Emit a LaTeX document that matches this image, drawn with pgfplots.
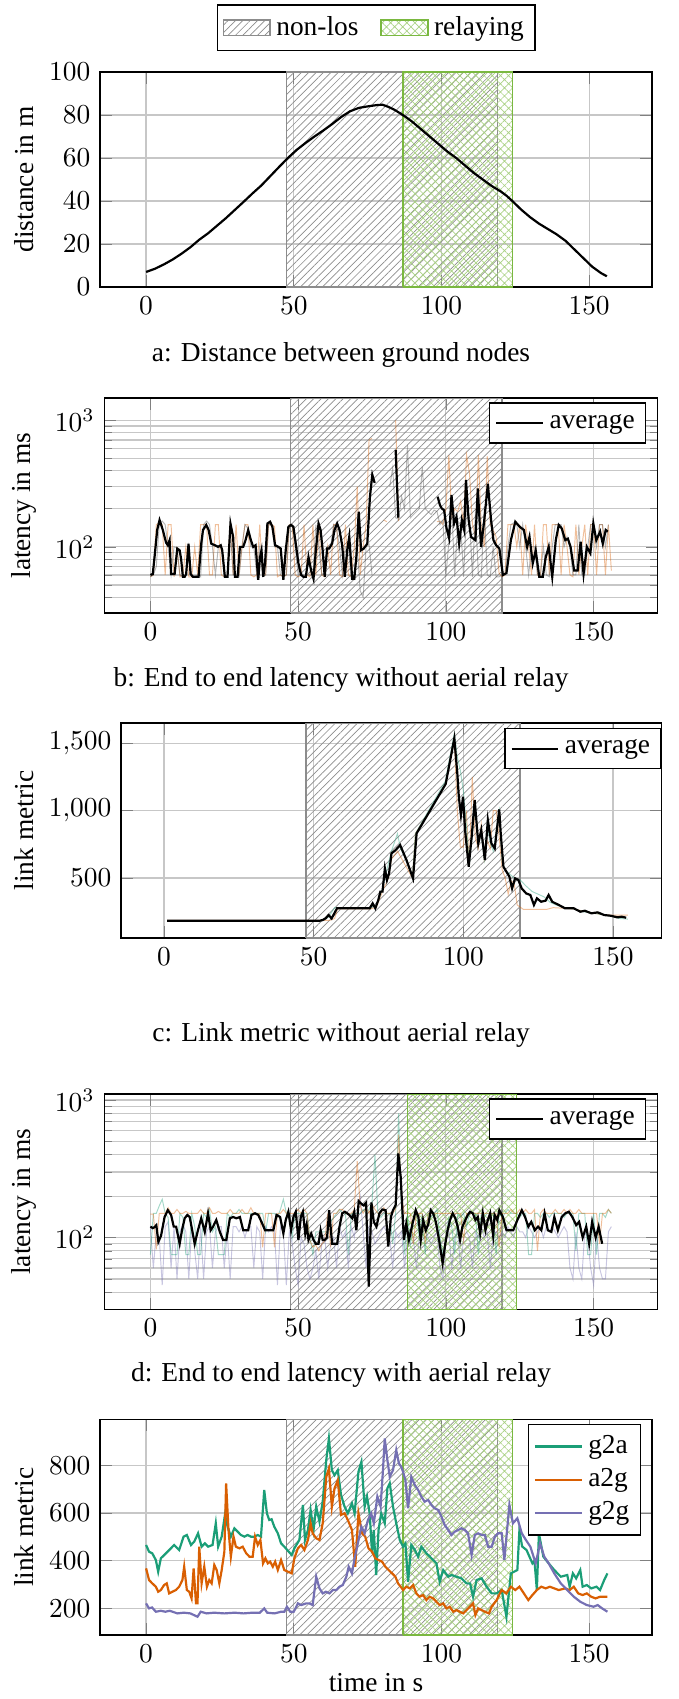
\documentclass[border=0pt]{standalone}
\usepackage{fontspec}
\setmainfont{Liberation Serif}
\usepackage{pgfplots}
\pgfplotsset{compat=1.18}
\usetikzlibrary{patterns.meta}
\definecolor{relaygreen}{RGB}{122,184,64}
\definecolor{dgreen}{RGB}{27,158,119}
\definecolor{dorange}{RGB}{217,95,2}
\definecolor{dpurple}{RGB}{117,112,179}
\pgfplotsset{
 base/.style={scale only axis, anchor=north west, xmajorgrids, ymajorgrids,
   grid style={black!22, line width=0.45pt},
   axis line style={line width=0.5pt},
   legend style={draw=black, line width=0.5pt, font=\normalsize, inner sep=2pt},
   legend cell align=left, unbounded coords=jump},
 nonlos/.style={draw=black!45, line width=0.5pt, pattern={Lines[angle=45,distance=1.9pt,line width=0.25pt]}, pattern color=black!45, area legend},
 relay/.style={draw=relaygreen, line width=0.5pt, pattern={Hatch[angle=45,distance=2.1pt,line width=0.25pt]}, pattern color=relaygreen!65, area legend},
 faint/.style={line width=0.35pt, opacity=0.4, forget plot},
}
\begin{document}
\begin{tikzpicture}
\useasboundingbox (0,0) rectangle (247.47pt,-620.1pt);
% ---------------- a
\begin{axis}[base, at={(36.5pt,-26.28pt)}, width=201.48pt, height=78.48pt,
  xmin=-15.6, xmax=171.3, ymin=0, ymax=100, ylabel={distance in m},
  ylabel style={at={(axis description cs:-0.138,0.5)}, anchor=center},
  legend columns=2, legend style={at={(0.5,1)}, anchor=south, yshift=7.7pt, /tikz/every even column/.append style={column sep=6pt}}]
\addplot[nonlos] coordinates {(47.5,0)(47.5,100)(119,100)(119,0)(47.5,0)};
\addlegendentry{non-los}
\addplot[relay] coordinates {(87,0)(87,100)(124,100)(124,0)(87,0)};
\addlegendentry{relaying}
\addplot[black, line width=0.8pt, forget plot] coordinates {(0,7)(3,8.5)(6,10.5)(9,12.8)(12,15.5)(15,18.5)(18,22)(21,25)(24,28.5)(27,32)(30,35.8)(33,39.6)(36,43.5)(39,47.2)(42,51.5)(45,55.8)(48,60)(51,63.8)(54,67)(57,70)(60,72.8)(63,75.8)(66,79)(69,81.7)(72,83.3)(75,84)(78,84.6)(80,84.8)(82,83.8)(84,82.5)(86,80.8)(88,79)(90,77)(93,73.5)(96,70)(99,66.5)(102,63)(105,60)(108,56.5)(111,53)(114,50)(117,47)(120,44.5)(122,42.5)(124,40)(127,36)(130,32.5)(133,29.5)(136,27)(139,24.5)(142,21.5)(145,17.5)(148,13.5)(151,9.5)(154,6.5)(156,5)};
\end{axis}
\node at (124.47pt,-129.58pt) {a: Distance between ground nodes};
% ---------------- b
\begin{axis}[base, at={(38.07pt,-145.27pt)}, width=201.88pt, height=78.48pt,
  xmin=-15.6, xmax=171.6, ymode=log, ymin=30, ymax=1500, yminorgrids, minor grid style={black!22, line width=0.45pt},
  ylabel={latency in ms},
  ylabel style={at={(axis description cs:-0.145,0.5)}, anchor=center}]
\addplot[nonlos, forget plot] coordinates {(47.5,30)(47.5,1500)(119,1500)(119,30)(47.5,30)};
\addplot[faint, dorange] coordinates {(0,58)(1,60)(2,150)(3,155)(4,150)(5,60)(6,150)(7,150)(8,58)(9,100)(10,58)(11,60)(12,100)(13,58)(14,58)(15,100)(16,60)(17,150)(18,150)(19,150)(20,60)(21,60)(22,150)(23,150)(24,60)(25,58)(26,58)(27,150)(28,60)(29,150)(30,60)(31,100)(32,150)(33,150)(34,60)(35,58)(36,60)(37,150)(38,60)(39,60)(40,150)(41,150)(42,145)(43,58)(44,60)(45,58)(46,60)(47,150)(48,148)(49,60)(50,58)(51,60)(52,150)(53,60)(54,58)(55,150)(56,60)(57,150)(58,60)(59,58)(60,100)(61,60)(62,150)(63,150)(64,60)(65,58)(66,150)(67,60)(68,58)(69,100)(70,300)(71,60)(72,100)(73,150)(74,700)(75,720)(76,nan)(79,163)(80,158)(81,nan)(83,1000)(84,160)(85,nan)(97,158)(98,160)(99,150)(100,200)(101,530)(102,170)(103,200)(104,190)(105,230)(106,150)(107,530)(108,380)(109,150)(110,120)(111,530)(112,140)(113,100)(114,520)(115,150)(116,136)(117,120)(118,62)(119,58)(120,60)(121,150)(122,150)(123,150)(124,100)(125,150)(126,60)(127,150)(128,100)(129,60)(130,150)(131,60)(132,58)(133,150)(134,150)(135,60)(136,150)(137,150)(138,150)(139,60)(140,150)(141,100)(142,60)(143,58)(144,150)(145,60)(146,100)(147,150)(148,60)(149,150)(150,150)(151,60)(152,150)(153,150)(154,60)(155,150)(156,65)};
\addplot[faint, black!70] coordinates {(0,58)(1,60)(2,70)(3,150)(4,160)(5,150)(6,100)(7,60)(8,100)(9,98)(10,60)(11,58)(12,60)(13,100)(14,58)(15,58)(16,60)(17,58)(18,150)(19,160)(20,150)(21,100)(22,60)(23,100)(24,100)(25,58)(26,60)(27,150)(28,60)(29,60)(30,58)(31,100)(32,150)(33,140)(34,100)(35,100)(36,60)(37,100)(38,58)(39,60)(40,150)(41,150)(42,100)(43,100)(44,60)(45,58)(46,60)(47,150)(48,150)(49,100)(50,60)(51,62)(52,60)(53,60)(54,60)(55,58)(56,150)(57,100)(58,60)(59,60)(60,100)(61,100)(62,150)(63,140)(64,100)(65,60)(66,100)(67,100)(68,55)(69,55)(70,100)(71,45)(72,40)(73,100)(74,105)(75,60)(76,nan)(81,300)(82,420)(83,170)(84,165)(85,250)(86,200)(87,640)(88,170)(89,180)(90,190)(91,200)(92,430)(93,200)(94,190)(95,180)(96,195)(97,190)(98,150)(99,160)(100,58)(101,110)(102,200)(103,58)(104,160)(105,150)(106,58)(107,200)(108,170)(109,58)(110,190)(111,60)(112,58)(113,210)(114,60)(115,58)(116,100)(117,58)(118,58)(119,60)(120,60)(121,100)(122,150)(123,155)(124,150)(125,100)(126,150)(127,100)(128,60)(129,100)(130,100)(131,60)(132,60)(133,100)(134,60)(135,58)(136,100)(137,150)(138,150)(139,150)(140,100)(141,120)(142,100)(143,60)(144,60)(145,150)(146,60)(147,60)(148,100)(149,150)(150,150)(151,100)(152,150)(153,150)(154,100)(155,150)};
\addplot[black, line width=0.8pt] coordinates {(0,60)(0.8,61)(1.4,83)(2.3,136)(3.1,163)(4.2,136)(5.3,108)(5.9,103)(6.5,113)(7,61)(7.6,61)(8.2,61)(9.1,97)(9.9,94)(10.4,80)(11,58)(11.6,58)(12.1,61)(12.9,106)(13.6,61)(14.4,58)(15.5,58)(16.3,58)(17.2,106)(17.8,136)(18.9,149)(19.7,136)(20.6,106)(21.8,103)(22.9,100)(23.8,103)(24.3,94)(25.2,58)(26.1,58)(27.1,153)(28,120)(28.6,58)(29.5,58)(30.3,100)(31.4,100)(32.2,113)(33.1,136)(34,113)(34.8,100)(35.6,103)(36.5,55)(37.1,83)(37.6,94)(38.2,58)(38.8,74)(39.6,153)(40.5,158)(41.3,144)(42.2,103)(43.3,100)(44.1,97)(45,55)(45.8,94)(46.7,144)(47.6,149)(48.4,144)(49.2,106)(50.1,74)(51,60)(51.8,58)(52.6,58)(53.5,83)(54.4,65)(55.2,56)(56,94)(56.9,153)(57.6,136)(58.3,94)(59,58)(59.8,97)(60.5,97)(61.5,106)(62.3,136)(63.2,153)(64,136)(64.9,103)(65.8,58)(66.6,94)(67.3,120)(68.3,56)(69,56)(69.7,83)(70.5,190)(71.3,94)(72.2,97)(73.4,106)(74.3,249)(75.1,371)(75.9,320)(76.5,nan)(83,585)(83.9,170)(84.5,nan)(97.2,249)(98,214)(98.6,201)(99.4,195)(100.2,141)(101.1,117)(101.9,257)(102.8,153)(103.6,173)(104.5,106)(105.4,163)(106.2,136)(106.8,338)(107.7,163)(108.5,120)(110,113)(110.8,290)(111.9,100)(113,163)(114.2,315)(115.3,163)(116.1,113)(117,103)(118.1,97)(119.3,60)(120.5,62)(122,113)(123.5,158)(125,144)(126.4,136)(127.5,100)(128.3,120)(129.4,74)(130.4,94)(131.6,58)(132.8,58)(133.8,83)(134.8,100)(136,58)(137.2,113)(138.2,149)(139.2,140)(140.4,113)(141.3,116)(142.2,100)(143.4,65)(144.6,65)(145.6,110)(146.6,61)(147.7,100)(148.9,89)(149.9,153)(150.9,113)(152.2,132)(153.1,106)(154.1,136)(154.8,132)};
\addlegendentry{average}
\end{axis}
\node at (124.47pt,-248.2pt) {b: End to end latency without aerial relay};
% ---------------- c
\begin{axis}[base, at={(44.13pt,-263.9pt)}, width=197.39pt, height=78.48pt,
  xmin=-14.4, xmax=166.3, ymin=54, ymax=1651, ylabel={link metric},
  ylabel style={at={(axis description cs:-0.179,0.5)}, anchor=center},
  legend style={at={(1,0.977)}, anchor=north east}]
\addplot[nonlos, forget plot] coordinates {(47.5,54)(47.5,1651)(119,1651)(119,54)(47.5,54)};
\addplot[faint, dorange] coordinates {(1,185)(52,185)(55,185)(56,190)(57,200)(58,270)(69,270)(71,285)(73,400)(74,450)(75,500)(76,640)(78,700)(80,620)(83,500)(84,830)(94,1190)(97,1520)(98,1000)(99,730)(100,730)(101,1000)(102,600)(103,1250)(104,800)(105,720)(106,900)(107,640)(108,780)(109,720)(110,1000)(111,1000)(112,800)(113,560)(114,500)(115,380)(116,480)(117,460)(118,300)(120,268)(128,268)(130,280)(134,275)(137,270)(140,255)(143,240)(146,230)(149,225)(152,225)(155,225)};
\addplot[faint, dgreen] coordinates {(1,180)(52,180)(55,210)(57,280)(69,280)(71,300)(73,420)(74,520)(76,700)(78,830)(79,720)(81,640)(83,500)(84,830)(94,1220)(97,1575)(98,1400)(99,1300)(100,1150)(101,900)(102,600)(103,820)(104,1050)(105,760)(106,830)(107,640)(108,900)(109,760)(110,700)(112,1000)(113,620)(114,560)(115,540)(117,500)(119,485)(121,440)(123,400)(125,380)(127,360)(129,320)(131,300)(134,280)(137,270)(140,250)(143,240)(146,230)(149,220)(152,200)(155,195)};
\addplot[black, line width=0.8pt] coordinates {(1,183)(52,183)(53,188)(54,200)(55,225)(56,200)(57.8,275)(68.7,275)(69.7,312)(70.6,275)(71.6,337)(72.3,399)(73,399)(73.8,572)(74.5,485)(75.2,535)(76,683)(77.4,708)(78.9,745)(81,634)(83.2,498)(84.4,832)(94.1,1198)(97,1537)(98,1277)(98.5,1104)(99.2,968)(99.9,1104)(100.6,856)(101.8,584)(102.8,807)(103.8,1079)(105,757)(106,856)(107.2,634)(108.2,931)(109.4,757)(110.5,720)(112,1010)(112.5,832)(113.4,584)(114.4,547)(115.4,510)(116.3,423)(117.3,498)(118.4,485)(119.5,423)(121,386)(122.4,374)(123.6,300)(124.6,349)(126,324)(127.5,332)(128.5,374)(129.7,324)(131.9,300)(134,275)(136.9,275)(139.1,250)(140.6,257)(142.8,238)(144.9,245)(147.1,225)(149.3,220)(151.5,208)(152.9,213)(154.4,205)};
\addlegendentry{average}
\end{axis}
\node at (124.47pt,-377.8pt) {c: Link metric without aerial relay};
% ---------------- d
\begin{axis}[base, at={(38.07pt,-399.31pt)}, width=201.88pt, height=78.58pt,
  xmin=-15.6, xmax=171.6, ymode=log, ymin=30, ymax=1106, yminorgrids, minor grid style={black!22, line width=0.45pt},
  ylabel={latency in ms},
  ylabel style={at={(axis description cs:-0.145,0.5)}, anchor=center}]
\addplot[nonlos, forget plot] coordinates {(47.5,30)(47.5,1106)(119,1106)(119,30)(47.5,30)};
\addplot[relay, forget plot] coordinates {(87,30)(87,1106)(124,1106)(124,30)(87,30)};
\addplot[faint, dpurple] coordinates {(0,120)(1,60)(2,110)(3,100)(4,45)(5,120)(6,130)(7,60)(8,120)(9,50)(10,110)(11,125)(12,110)(13,50)(14,120)(15,80)(16,50)(17,120)(18,50)(19,110)(20,120)(21,60)(22,110)(23,120)(24,120)(25,60)(26,110)(27,50)(28,120)(29,120)(30,110)(31,120)(32,100)(33,120)(34,120)(35,60)(36,120)(37,110)(38,50)(39,120)(40,110)(41,120)(42,110)(43,45)(44,120)(45,110)(46,45)(47,110)(48,90)(49,60)(50,45)(51,100)(52,90)(53,60)(54,50)(55,60)(56,80)(57,50)(58,90)(59,100)(60,60)(61,90)(62,100)(63,60)(64,120)(65,100)(66,110)(67,60)(68,120)(69,100)(70,150)(71,200)(72,110)(73,60)(74,120)(75,110)(76,90)(77,100)(78,110)(79,120)(80,110)(81,100)(82,60)(83,110)(84,100)(85,110)(86,60)(87,100)(88,110)(89,100)(90,60)(91,100)(92,110)(93,120)(94,100)(95,90)(96,100)(97,110)(98,60)(99,50)(100,100)(101,110)(102,60)(103,100)(104,110)(105,60)(106,100)(107,110)(108,100)(109,60)(110,110)(111,100)(112,120)(113,100)(114,110)(115,60)(116,100)(117,110)(118,100)(119,110)(120,100)(121,120)(122,110)(123,100)(124,120)(125,110)(126,110)(127,100)(128,120)(129,110)(130,100)(131,110)(132,120)(133,100)(134,120)(135,110)(136,120)(137,110)(138,100)(139,110)(140,120)(141,110)(142,60)(143,50)(144,110)(145,60)(146,50)(147,110)(148,100)(149,60)(150,45)(151,110)(152,60)(153,50)(154,50)(155,110)(156,120)};
\addplot[faint, dgreen] coordinates {(0,75)(1,150)(2,150)(3,170)(4,190)(5,150)(6,140)(7,75)(8,75)(9,75)(10,150)(11,140)(12,75)(13,75)(14,150)(15,120)(16,75)(17,75)(18,150)(19,140)(20,160)(21,110)(22,120)(23,75)(24,75)(25,75)(26,150)(27,140)(28,150)(29,150)(30,160)(31,150)(32,150)(33,150)(34,150)(35,150)(36,150)(37,150)(38,150)(39,110)(40,150)(41,150)(42,150)(43,140)(44,160)(45,190)(46,150)(47,150)(48,100)(49,150)(50,150)(51,150)(52,150)(53,150)(54,100)(55,75)(56,110)(57,110)(58,110)(59,110)(60,110)(61,130)(62,140)(63,150)(64,160)(65,150)(66,150)(67,75)(68,150)(69,150)(70,150)(71,150)(72,160)(73,150)(74,160)(75,180)(76,400)(77,150)(78,140)(79,150)(80,150)(81,150)(82,90)(83,150)(84,800)(85,150)(86,75)(87,150)(88,90)(89,130)(90,150)(91,100)(92,150)(93,75)(94,150)(95,140)(96,150)(97,160)(98,100)(99,75)(100,100)(101,140)(102,120)(103,75)(104,150)(105,140)(106,150)(107,120)(108,150)(109,150)(110,150)(111,75)(112,150)(113,140)(114,150)(115,150)(116,150)(117,75)(118,150)(119,140)(120,150)(121,160)(122,150)(123,150)(124,150)(125,140)(126,150)(127,150)(128,75)(129,75)(130,150)(131,150)(132,140)(133,150)(134,150)(135,140)(136,150)(137,150)(138,150)(139,150)(140,140)(141,150)(142,150)(143,150)(144,80)(145,150)(146,150)(147,150)(148,75)(149,75)(150,150)(151,75)(152,150)(153,150)(154,140)(155,160)(156,150)};
\addplot[faint, dorange] coordinates {(0,148)(1,148)(2,82)(3,150)(4,150)(5,150)(6,165)(7,150)(8,150)(9,160)(10,150)(11,150)(12,155)(13,150)(14,150)(15,150)(16,150)(17,160)(18,150)(19,150)(20,165)(21,150)(22,150)(23,155)(24,150)(25,150)(26,150)(27,160)(28,150)(29,150)(30,150)(31,160)(32,150)(33,150)(34,165)(35,150)(36,150)(37,150)(38,85)(39,150)(40,150)(41,150)(42,85)(43,150)(44,150)(45,160)(46,150)(47,150)(48,150)(49,150)(50,160)(51,150)(52,160)(53,150)(54,95)(55,85)(56,88)(57,80)(58,90)(59,95)(60,150)(61,85)(62,150)(63,150)(64,160)(65,160)(66,150)(67,150)(68,150)(69,160)(70,360)(71,170)(72,150)(73,165)(74,150)(75,175)(76,160)(77,150)(78,150)(79,165)(80,150)(81,150)(82,150)(83,160)(84,560)(85,200)(86,150)(87,150)(88,150)(89,90)(90,150)(91,150)(92,150)(93,90)(94,150)(95,150)(96,150)(97,150)(98,150)(99,150)(100,150)(101,150)(102,150)(103,150)(104,150)(105,150)(106,95)(107,150)(108,150)(109,150)(110,150)(111,150)(112,150)(113,150)(114,150)(115,150)(116,150)(117,150)(118,85)(119,150)(120,150)(121,150)(122,160)(123,150)(124,150)(125,160)(126,150)(127,160)(128,150)(129,150)(130,160)(131,80)(132,150)(133,160)(134,150)(135,150)(136,150)(137,160)(138,150)(139,150)(140,160)(141,150)(142,160)(143,150)(144,150)(145,160)(146,150)(147,150)(148,150)(149,150)(150,150)(151,150)(152,90)(153,150)(154,150)(155,160)(156,150)};
\addplot[black, line width=0.8pt] coordinates {(0,120)(0.8,117)(1.4,119)(2,123)(2.7,93)(3.6,103)(4.8,141)(5.9,158)(7,146)(7.9,120)(8.7,120)(9.9,90)(10.7,113)(11.6,138)(12.5,146)(13.3,141)(15,90)(16.1,113)(17.2,138)(18.4,110)(19.5,150)(20.4,113)(21.2,120)(22.3,134)(23.5,110)(24.6,96)(25.7,96)(26.9,138)(28,141)(29.1,138)(30.3,141)(31.4,113)(33.1,113)(34.2,146)(35.4,150)(36.5,146)(37.6,130)(38.8,113)(40.5,113)(41.6,113)(42.7,146)(43.9,141)(45,107)(45.8,134)(46.7,154)(47.6,113)(48.4,141)(49.2,154)(50.1,96)(50.9,141)(51.6,154)(52.4,107)(52.9,123)(53.5,96)(54.4,107)(55.2,96)(56,90)(56.9,90)(57.6,113)(58.3,96)(59,96)(59.8,100)(60.5,158)(61.5,90)(62.3,90)(63.2,90)(64,120)(64.9,150)(65.8,154)(66.6,150)(67.3,146)(68.3,138)(69,154)(69.7,113)(70.5,184)(71.4,176)(72.2,171)(73,179)(73.9,44)(74.8,180)(75.6,130)(76.5,120)(77.5,150)(78.5,160)(79.6,158)(80.5,86)(81.4,141)(82.1,158)(83,172)(83.9,409)(84.7,277)(85.8,96)(86.6,126)(87.5,96)(88.7,126)(89.8,158)(90.7,141)(91.5,96)(92.3,134)(93.2,113)(94.1,126)(94.9,158)(95.7,150)(96.6,130)(97.7,96)(98.9,65)(99.8,90)(100.6,113)(101.4,134)(102.3,150)(103.2,138)(104,120)(104.8,96)(105.6,120)(106.6,134)(107.4,146)(108.2,154)(109.1,150)(110,134)(110.8,141)(111.6,107)(112.5,150)(113.4,113)(114.2,134)(115,150)(116,103)(116.5,146)(117.4,134)(118.1,158)(119.3,141)(120.5,113)(122.8,113)(124.2,134)(125.7,158)(126.8,141)(127.9,120)(128.9,130)(130.1,113)(131.2,120)(132.3,113)(133.4,150)(134.5,113)(135.7,110)(136.7,141)(137.9,113)(139.2,141)(140.4,150)(141.6,154)(142.8,141)(144.1,123)(145.1,130)(146.3,100)(147.5,120)(148.5,90)(149.5,130)(150.7,100)(151.7,120)(152.9,90)};
\addlegendentry{average}
\end{axis}
\node at (124.47pt,-501.9pt) {d: End to end latency with aerial relay};
% ---------------- e
\begin{axis}[base, at={(36.5pt,-518.04pt)}, width=201.48pt, height=78.73pt,
  xmin=-15.6, xmax=171.3, ymin=88, ymax=993, ylabel={link metric}, xlabel={time in s},
  xlabel style={yshift=3pt},
  ylabel style={at={(axis description cs:-0.138,0.5)}, anchor=center}]
\addplot[nonlos, forget plot] coordinates {(47.5,88)(47.5,993)(119,993)(119,88)(47.5,88)};
\addplot[relay, forget plot] coordinates {(87,88)(87,993)(124,993)(124,88)(87,88)};
\addplot[dgreen, line width=0.8pt] coordinates {(0,466)(1,438)(2.1,431)(3.3,403)(4.1,354)(5,410)(6.7,431)(8.4,452)(9.5,466)(11.2,445)(12.7,501)(13.8,508)(15.2,466)(16.3,480)(17.6,515)(18.8,459)(19.9,473)(21,459)(22.5,466)(23.6,557)(24.4,459)(25.6,501)(26.7,592)(27.6,543)(28.7,501)(29.9,536)(31,522)(32.1,508)(33.3,501)(34.4,508)(35.5,501)(36.7,501)(37.8,508)(38.9,501)(40,697)(40.9,599)(41.7,571)(42.5,574)(43.4,543)(44.6,515)(45.7,473)(46.8,459)(49.3,424)(50.2,452)(51.9,487)(53.1,634)(53.8,487)(54.8,529)(55.7,613)(56.7,529)(57.6,627)(58.7,564)(59.8,648)(61,822)(61.9,913)(62.9,780)(63.8,759)(64.9,780)(66,676)(67.2,627)(68.3,599)(69.7,641)(70.6,599)(71.9,773)(72.9,815)(74,627)(74.8,669)(75.7,599)(76.5,431)(77.1,529)(77.9,340)(78.7,529)(79.6,599)(80.8,557)(81.7,704)(82.5,725)(83.6,627)(84.7,557)(85.9,487)(87,459)(87.8,473)(88.7,312)(89.8,466)(91,445)(92.1,417)(93.2,459)(94.9,431)(96.6,410)(98.3,389)(99.4,312)(100.6,361)(102.3,333)(103.4,340)(105.1,333)(106.8,326)(108.5,305)(109.7,305)(110.7,249)(111.9,319)(113.6,326)(115.3,291)(117,263)(118.7,263)(120.4,277)(122,165)(123.5,347)(125.7,361)(126.4,529)(127.3,460)(128.8,445)(130.8,389)(131.5,400)(132.3,277)(133,515)(134.5,417)(136.3,389)(138.2,361)(140.4,333)(142.6,340)(143.4,291)(144.5,347)(145.6,326)(147,361)(147.8,291)(149.2,298)(150.7,284)(152.5,291)(153.7,277)(155.1,319)(156.2,347)};
\addlegendentry{g2a}
\addplot[dorange, line width=0.8pt] coordinates {(0,368)(1,319)(2.1,305)(3.3,291)(4.1,270)(5,277)(6.1,298)(7,305)(7.8,263)(8.9,270)(10.1,277)(11.2,291)(12.3,319)(12.9,375)(13.8,277)(14.6,270)(15.4,242)(16.1,368)(16.9,221)(17.4,221)(18,459)(18.8,305)(19.7,375)(20.6,291)(21.4,319)(22.2,305)(23.1,382)(23.9,361)(24.8,305)(25.6,361)(26.5,438)(27.1,724)(27.9,529)(28.7,417)(29.6,501)(30.4,459)(31.6,452)(32.7,459)(33.9,431)(35,417)(36.1,417)(36.9,501)(37.8,466)(38.7,487)(39.6,389)(40.4,410)(41.2,389)(42,396)(42.9,375)(43.7,396)(44.6,361)(45.7,403)(46.8,361)(48,354)(49.3,347)(50.2,410)(51.4,452)(52.5,466)(53.6,445)(54.8,487)(55.7,557)(56.4,515)(57.6,494)(58.7,487)(59.8,557)(61,752)(61.9,787)(62.9,627)(63.8,704)(64.9,738)(66,592)(67.2,599)(68.3,571)(69.7,529)(70.8,375)(71.9,599)(73.1,515)(74.2,501)(75.3,452)(76.5,438)(77.6,410)(78.7,403)(79.9,396)(81,375)(82.1,361)(83.3,347)(84.4,333)(85.3,305)(86.2,291)(87,277)(88.1,291)(89.3,284)(90.4,298)(91.5,263)(92.6,249)(93.8,256)(94.9,235)(96,249)(97.2,242)(98.3,228)(99.4,214)(100.6,221)(101.7,200)(102.8,207)(104,186)(105.1,193)(106.2,186)(107.4,179)(108.5,193)(109.6,207)(110.7,221)(111.5,172)(112.4,200)(113.6,193)(114.7,186)(116.1,179)(117,207)(118.7,235)(119.8,263)(120.4,277)(122,263)(123.5,291)(125,277)(126.4,291)(127.9,263)(129.4,235)(130.8,256)(132.3,277)(133.8,291)(135.3,284)(136.7,291)(138.2,284)(139.7,277)(141.9,284)(143.4,277)(144.8,291)(146.3,263)(147.8,256)(149.2,263)(150.7,249)(152.2,242)(153.7,249)(155.1,249)(156.2,249)};
\addlegendentry{a2g}
\addplot[dpurple, line width=0.8pt] coordinates {(0,221)(1,200)(2,204)(3.3,186)(5,190)(6.5,186)(8,190)(10.6,179)(12.8,182)(15,179)(17.4,165)(18.5,186)(20.5,179)(23,182)(26.5,179)(30,182)(33,179)(36,182)(38.5,182)(40,200)(41,182)(43.5,179)(45.7,186)(46.8,186)(47.7,207)(48.8,186)(50,186)(51.4,221)(52.5,214)(54.2,221)(55.3,221)(56.4,214)(57.6,333)(58.7,284)(59.8,263)(60.9,270)(62.1,263)(63.2,277)(64.4,277)(65.5,291)(66.6,298)(67.8,333)(68.6,375)(69.7,347)(70.6,410)(71.7,473)(72.9,543)(74,515)(75.1,571)(76.2,599)(77.1,557)(78.3,669)(79.4,627)(80.2,780)(80.8,913)(81.7,822)(82.5,752)(83.6,780)(84.7,864)(85.6,808)(86.4,794)(87,773)(87.8,738)(88.7,620)(89.8,752)(91,717)(92.1,697)(93.2,669)(94.3,648)(95.5,655)(96.6,634)(97.7,620)(98.9,613)(100,585)(101.1,550)(102.3,529)(103.4,508)(104.5,522)(105.7,529)(106.8,536)(107.9,529)(109,515)(110.2,424)(111.3,508)(112.4,515)(113.6,508)(114.7,508)(115.8,459)(117,459)(118.1,501)(119.2,515)(120.4,515)(121.3,403)(123,634)(124.2,557)(125.7,578)(127.2,515)(128.6,487)(130.1,459)(131.9,389)(133.4,473)(134.8,417)(136.3,389)(138.2,347)(140.4,305)(142.6,277)(144.8,249)(147,228)(149.2,214)(151.5,207)(152.9,214)(154.4,200)(156.2,186)};
\addlegendentry{g2g}
\end{axis}
\end{tikzpicture}
\end{document}
